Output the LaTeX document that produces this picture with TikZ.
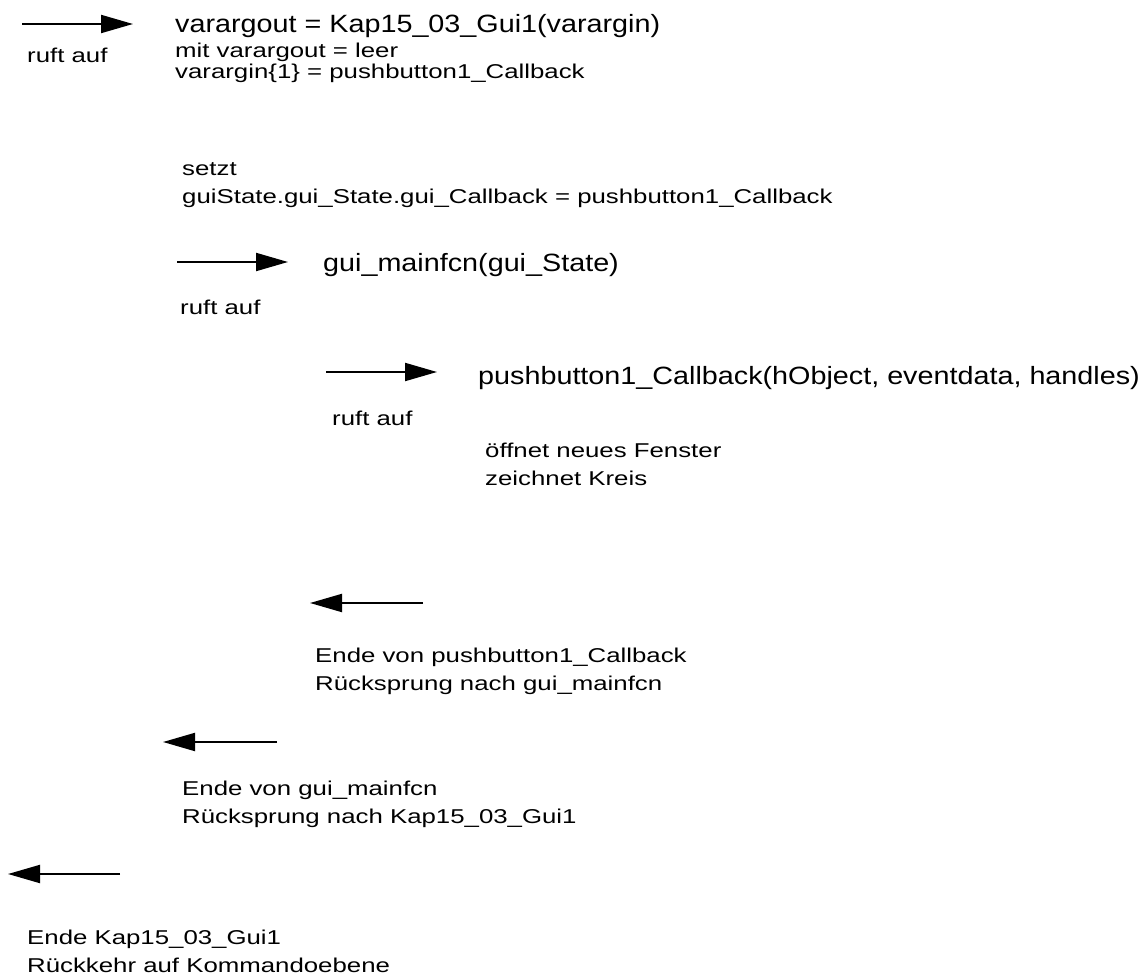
\documentclass[tikz,border=0pt]{standalone}
\usepackage{fontspec}
\setmainfont{Liberation Sans}
\newfontfamily\lblfont{Liberation Sans}[FakeStretch=1.29]
\newfontfamily\fnfont{Liberation Sans}[FakeStretch=1.15]
\usetikzlibrary{arrows.meta}
\definecolor{ink}{HTML}{000000}

\begin{document}
\begin{tikzpicture}[x=1pt, y=-1pt,
    every node/.style={text=ink, inner sep=0pt, anchor=base west, align=left},
    lbl/.style={font=\lblfont\fontsize{20pt}{28pt}\selectfont},
    fn/.style={font=\fnfont\fontsize{25pt}{30pt}\selectfont},
    callarr/.style={draw=ink, line width=2pt, -{Triangle[length=32pt, width=18pt]}},
  ]
  \useasboundingbox (0,0) rectangle (1146,976);

  % call into Kap15_03_Gui1
  \coordinate (c1a) at (22,24);
  \coordinate (c1b) at (133,24);
  \draw[callarr] (c1a) -- (c1b);
  \node[lbl] (ruft1) at (27,63) {ruft auf};
  \node[fn] (gui1) at (175,33) {varargout = Kap15\_03\_Gui1(varargin)};
  \node[lbl] (args1) at (175,79) {mit varargout = leer\\[-7pt]varargin\{1\} = pushbutton1\_Callback};
  \node[lbl] (setzt) at (182,204) {setzt\\guiState.gui\_State.gui\_Callback = pushbutton1\_Callback};

  % call into gui_mainfcn
  \coordinate (c2a) at (177,262);
  \coordinate (c2b) at (288,262);
  \draw[callarr] (c2a) -- (c2b);
  \node[fn] (mainfcn) at (323,272) {gui\_mainfcn(gui\_State)};
  \node[lbl] (ruft2) at (180,315) {ruft auf};

  % call into the callback
  \coordinate (c3a) at (326,372);
  \coordinate (c3b) at (437,372);
  \draw[callarr] (c3a) -- (c3b);
  \node[fn] (cb) at (478,384) {pushbutton1\_Callback(hObject, eventdata, handles)};
  \node[lbl] (ruft3) at (332,425) {ruft auf};
  \node[lbl] (tut) at (485,485) {öffnet neues Fenster\\zeichnet Kreis};

  % the way back
  \coordinate (r1a) at (423,603);
  \coordinate (r1b) at (310,603);
  \draw[callarr] (r1a) -- (r1b);
  \node[lbl] (ende1) at (315,690) {Ende von pushbutton1\_Callback\\Rücksprung nach gui\_mainfcn};

  \coordinate (r2a) at (277,742);
  \coordinate (r2b) at (163,742);
  \draw[callarr] (r2a) -- (r2b);
  \node[lbl] (ende2) at (182,823) {Ende von gui\_mainfcn\\Rücksprung nach Kap15\_03\_Gui1};

  \coordinate (r3a) at (120,874);
  \coordinate (r3b) at (8,874);
  \draw[callarr] (r3a) -- (r3b);
  \node[lbl] (ende3) at (27,972) {Ende Kap15\_03\_Gui1\\Rückkehr auf Kommandoebene};
\end{tikzpicture}
\end{document}
